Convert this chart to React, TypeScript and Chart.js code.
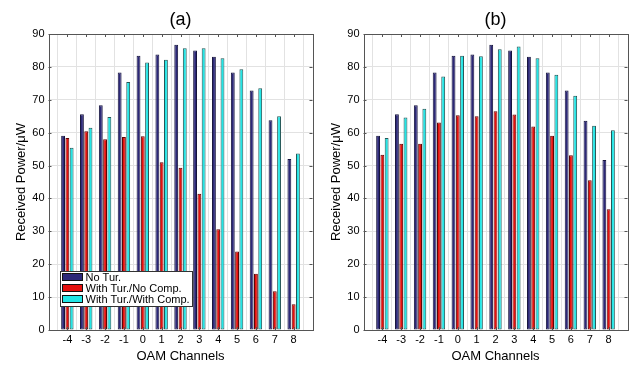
import React, { useEffect, useRef } from 'react';
import { Chart, registerables } from 'chart.js';

Chart.register(...registerables);

const channels = [-4, -3, -2, -1, 0, 1, 2, 3, 4, 5, 6, 7, 8];
const xMin = -5;
const xMax = 9;
const yMin = 0;
const yMax = 90;
const yStep = 10;

const seriesLabels = ['No Tur.', 'With Tur./No Comp.', 'With Tur./With Comp.'];

const noTurA = [59.1, 65.6, 68.3, 78.3, 83.4, 83.8, 86.7, 85.0, 83.1, 78.3, 72.8, 63.8, 52.0];
const noCompA = [58.4, 60.4, 58.0, 58.7, 58.9, 51.0, 49.3, 41.4, 30.6, 23.9, 17.1, 11.8, 7.8];
const withCompA = [55.4, 61.5, 64.8, 75.4, 81.3, 82.2, 85.7, 85.7, 82.6, 79.3, 73.5, 65.0, 53.7];

const noTurB = [59.1, 65.6, 68.3, 78.3, 83.4, 83.8, 86.7, 85.0, 83.1, 78.3, 72.8, 63.6, 51.7];
const noCompB = [53.3, 56.6, 56.6, 63.1, 65.3, 65.0, 66.5, 65.5, 61.9, 59.1, 53.1, 45.5, 36.7];
const withCompB = [58.4, 64.6, 67.3, 77.1, 83.4, 83.2, 85.4, 86.2, 82.6, 77.6, 71.2, 62.1, 60.7];

const fillColors = ['#2c2878', '#e5110e', '#22e6e6'];
const edgeColors = ['#17153d', '#5e0606', '#245858'];

const FONT = "'Liberation Sans', Arial, Helvetica, sans-serif";

const framePlugin = {
  id: 'frame',
  afterDraw(chart: any, _args: any, opts: any) {
    const { ctx, chartArea: a } = chart;
    const xs = chart.scales.x;
    const ys = chart.scales.y;
    ctx.save();
    ctx.strokeStyle = '#555';
    ctx.lineWidth = 1;
    const line = (x1: number, y1: number, x2: number, y2: number) => {
      ctx.beginPath();
      ctx.moveTo(x1, y1);
      ctx.lineTo(x2, y2);
      ctx.stroke();
    };
    // inward ticks
    ys.ticks.forEach((t: any) => {
      const y = Math.round(ys.getPixelForValue(t.value)) + 0.5;
      line(a.left, y, a.left + 3, y);
      line(a.right - 3, y, a.right, y);
    });
    channels.forEach((c) => {
      const x = Math.round(xs.getPixelForValue(c)) + 0.5;
      line(x, a.bottom, x, a.bottom - 3);
      line(x, a.top, x, a.top + 3);
    });
    ctx.strokeRect(Math.round(a.left) + 0.5, Math.round(a.top) + 0.5, Math.round(a.right - a.left), Math.round(a.bottom - a.top));

    // panel title
    ctx.fillStyle = '#000';
    ctx.font = `18px ${FONT}`;
    ctx.textAlign = 'center';
    ctx.textBaseline = 'middle';
    ctx.fillText(opts.title, (a.left + a.right) / 2, 20);

    // legend
    if (opts.legend) {
      ctx.font = `11px ${FONT}`;
      const labels = chart.data.datasets.map((d: any) => d.label);
      const maxW = Math.max(...labels.map((l: string) => ctx.measureText(l).width));
      const bx = Math.round(a.left + 11) + 0.5;
      const bh = 35;
      const by = Math.round(a.bottom - 24 - bh) + 0.5;
      const bw = Math.round(25 + maxW + 3);
      ctx.fillStyle = '#fff';
      ctx.fillRect(bx, by, bw, bh);
      ctx.strokeStyle = '#333';
      ctx.strokeRect(bx, by, bw, bh);
      chart.data.datasets.forEach((d: any, i: number) => {
        const cy = by + 5.5 + i * 11;
        ctx.fillStyle = d.backgroundColor;
        ctx.fillRect(bx + 2, cy - 3.5, 20, 7);
        ctx.strokeStyle = '#111';
        ctx.strokeRect(bx + 2, cy - 3.5, 20, 7);
        ctx.fillStyle = '#000';
        ctx.textAlign = 'left';
        ctx.textBaseline = 'middle';
        ctx.fillText(d.label, bx + 25, cy + 0.5);
      });
    }
    ctx.restore();
  },
};

type PanelProps = {
  left: number;
  width: number;
  padRight: number;
  title: string;
  series: number[][];
  legend: boolean;
};

function Panel({ left, width, padRight, title, series, legend }: PanelProps) {
  const ref = useRef<HTMLCanvasElement>(null);
  useEffect(() => {
    const chart = new Chart(ref.current as HTMLCanvasElement, {
      type: 'bar',
      data: {
        datasets: series.map((vals, i) => ({
          label: seriesLabels[i],
          data: channels.map((c, j) => ({ x: c, y: vals[j] })),
          backgroundColor: fillColors[i],
          borderColor: edgeColors[i],
          borderWidth: 1,
          borderSkipped: false,
          categoryPercentage: 0.68,
          barPercentage: 0.9,
        })),
      } as any,
      options: {
        responsive: false,
        animation: false,
        layout: { padding: { top: 34, right: padRight, left: 0, bottom: 0 } },
        plugins: {
          legend: { display: false },
          tooltip: { enabled: false },
          title: { display: false },
          frame: { title, legend },
        } as any,
        scales: {
          x: {
            type: 'linear',
            min: xMin,
            max: xMax,
            offset: false,
            ticks: {
              stepSize: 1,
              autoSkip: false,
              maxRotation: 0,
              padding: 3,
              color: '#000',
              font: { size: 11, family: FONT },
              callback: (v: any) => (v > xMin && v < xMax ? String(v) : ''),
            },
            grid: { color: '#e2e2e2', drawTicks: false },
            border: { display: false },
            title: {
              display: true,
              text: 'OAM Channels',
              color: '#000',
              font: { size: 13, family: FONT },
              padding: { top: 0, bottom: 5 },
            },
            afterFit: (s: any) => {
              s.height = 39;
            },
          },
          y: {
            min: yMin,
            max: yMax,
            ticks: {
              stepSize: yStep,
              padding: 4,
              color: '#000',
              font: { size: 11, family: FONT },
            },
            grid: { color: '#e2e2e2', drawTicks: false },
            border: { display: false },
            title: {
              display: true,
              text: 'Received Power/μW',
              color: '#000',
              font: { size: 13, family: FONT },
              padding: { top: 14, bottom: 0 },
            },
            afterFit: (s: any) => {
              s.width = 48.5;
            },
          },
        } as any,
      },
      plugins: [framePlugin],
    });
    return () => chart.destroy();
  }, []);
  return (
    <div style={{ position: 'absolute', left, top: 0, width, height: 369 }}>
      <canvas ref={ref} width={width} height={369} style={{ width, height: 369, display: 'block' }} />
    </div>
  );
}

export default function App() {
  return (
    <div style={{ position: 'absolute', left: 0, top: 0, width: 635, height: 369, background: '#fff', overflow: 'hidden' }}>
      <Panel left={0} width={316} padRight={3.5} title="(a)" series={[noTurA, noCompA, withCompA]} legend={true} />
      <Panel left={315} width={320} padRight={7.5} title="(b)" series={[noTurB, noCompB, withCompB]} legend={false} />
    </div>
  );
}
